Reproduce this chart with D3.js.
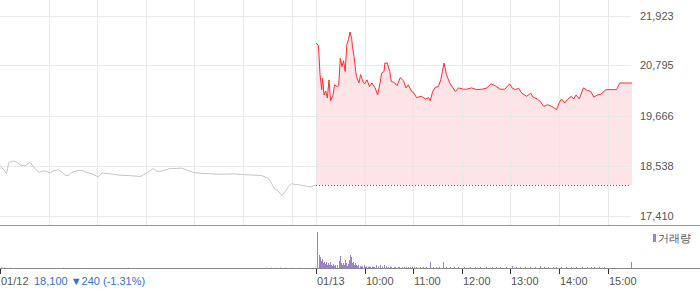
<!DOCTYPE html>
<html>
<head>
	<meta charset="utf-8">
	<title></title>
	<script src="https://cdn.jsdelivr.net/npm/d3@7"></script>
	<style>
		body { margin: 0; background: #fff; }
		text { font-family: "Liberation Sans", Arial, sans-serif; font-size: 11px; fill: #555; }
	</style>
</head>
<body>
	<script type="text/javascript">

		// 01/12 (previous session) prices
		var day1Times = ["09:00","09:04","09:08","09:11","09:16","09:21","09:25","09:31","09:37","09:41","09:46","09:49","09:53","09:58",
			"10:02","10:06","10:12","10:16","10:20","10:24","10:28","10:35","10:41","10:47","10:55","11:01","11:06","11:16","11:28",
			"11:40","11:53","11:59","12:05","12:09","12:13","12:17","12:24","12:30","12:36","12:44","12:50","12:59","13:09","13:21",
			"13:34","13:50","14:02","14:15","14:23","14:31","14:35","14:39","14:44","14:48","14:52","14:56","15:00","15:04","15:10",
			"15:16","15:23","15:30"]
		var day1Prices = [18530,18460,18350,18610,18640,18610,18550,18530,18610,18520,18410,18380,18420,18400,
			18370,18420,18440,18400,18320,18310,18380,18420,18430,18380,18340,18280,18370,18350,18320,
			18310,18290,18350,18410,18470,18420,18400,18440,18470,18470,18480,18440,18380,18360,18350,
			18340,18350,18330,18320,18310,18250,18140,18010,17950,17860,17950,18060,18130,18110,18100,
			18080,18050,18100]

		// 01/13 (today) prices
		var day2Times = ["09:00","09:03","09:05","09:07","09:08","09:10","09:12","09:14","09:16","09:18","09:21","09:23","09:26","09:28",
			"09:30","09:32","09:34","09:36","09:38","09:40","09:42","09:44","09:45","09:47","09:49","09:50","09:53","09:55","09:58",
			"10:00","10:03","10:06","10:09","10:13","10:16","10:19","10:21","10:24","10:25","10:28","10:31","10:33","10:36","10:40",
			"10:44","10:48","10:51","10:54","10:58","11:01","11:04","11:10","11:15","11:19","11:21","11:24","11:27","11:31","11:34",
			"11:36","11:38","11:41","11:45","11:49","11:52","11:56","12:02","12:06","12:12","12:18","12:25","12:31","12:36","12:41",
			"12:47","12:53","12:59","13:02","13:06","13:10","13:14","13:20","13:25","13:28","13:33","13:37","13:41","13:46","13:51",
			"13:57","14:00","14:03","14:07","14:10","14:15","14:18","14:21","14:25","14:30","14:35","14:39","14:43","14:47","14:51",
			"14:54","14:58","15:04","15:11","15:15","15:27","15:30"]
		var day2Prices = [21300,21250,20590,20250,20510,20130,20220,20060,20470,20000,20130,20360,20320,20340,
			20960,20770,20900,20660,21260,21380,21550,21410,21220,21000,20660,20550,20400,20590,20430,
			20380,20470,20320,20400,20290,20130,20400,20620,20660,20850,20850,20660,20430,20420,20340,
			20520,20450,20290,20360,20210,20170,20070,20100,20040,20070,20000,20210,20300,20320,20470,
			20660,20850,20590,20400,20290,20210,20290,20260,20260,20290,20250,20260,20290,20380,20340,
			20260,20260,20380,20290,20250,20280,20170,20100,20170,20080,20040,19980,19870,19910,19870,
			19800,19950,20040,19950,20020,20100,20040,20130,20040,20290,20230,20210,20080,20130,20140,
			20190,20250,20250,20250,20400,20400,20400]

		var prevClose = 18100

		// volume (thousand shares)
		var vol1Times = ["09:01","09:03","09:05","09:12","10:18","11:38","14:28","14:34","14:40","14:45","14:52","15:00","15:10","15:29"]
		var vol1Values = [15,8,10,8,8,8,8,10,8,12,10,8,8,15]

		var vol2Times = ["09:01","09:04","09:05","09:06","09:07","09:09","09:10","09:11","09:12","09:14","09:15","09:16","09:17",
			"09:19","09:20","09:21","09:22","09:23","09:26","09:28","09:30","09:31","09:32","09:33","09:35","09:36","09:37","09:38",
			"09:39","09:41","09:42","09:43","09:44","09:46","09:47","09:48","09:49","09:51","09:52","09:54","09:55","09:57","09:59",
			"10:01","10:02","10:04","10:05","10:07","10:09","10:10","10:12","10:14","10:16","10:17","10:19","10:21","10:22","10:24",
			"10:26","10:27","10:29","10:31","10:33","10:36","10:38","10:41","10:43","10:46","10:48","10:51","10:53","10:56","10:58",
			"11:01","11:04","11:08","11:12","11:16","11:21","11:24","11:28","11:32","11:37","11:40","11:45","11:50","11:55","12:03",
			"12:10","12:16","12:22","12:30","12:37","12:42","12:47","12:55","13:02","13:07","13:12","13:18","13:24","13:30","13:37",
			"13:41","13:46","13:52","13:56","14:02","14:08","14:15","14:21","14:28","14:34","14:39","14:43","14:49","14:55","15:29"]
		var vol2Values = [360,130,110,70,90,50,60,40,60,30,50,30,60,
			30,20,40,20,30,30,70,120,50,30,50,30,80,50,20,
			40,80,130,110,50,60,30,50,30,20,30,20,15,17,30,
			12,15,12,15,12,15,12,12,30,12,15,30,15,12,30,
			20,12,12,15,12,12,10,12,10,10,12,12,10,10,12,
			12,10,10,12,10,60,10,10,12,60,10,10,12,12,10,
			10,10,10,12,10,10,10,12,20,10,10,12,12,10,20,
			12,10,10,10,12,12,10,10,12,12,10,10,12,10,60]

		var yTicks = [21923, 20795, 19666, 18538, 17410]
		var hourLabels = ["10:00","11:00","12:00","13:00","14:00","15:00"]
		var dayLabels = ["01/12","01/13"]
		var prevInfo = "18,100 \u25BC240 (-1.31%)"
		var legendLabel = "거래량"

		var W = 700, H = 289
		var plotRight = 631

		function toMin(day, t) {
			var p = t.split(":")
			return day * 390 + (+p[0] - 9) * 60 + (+p[1])
		}

		var svg = d3.select("body").append("svg")
			.attr("width", W)
			.attr("height", H)

		var x = d3.scaleLinear().domain([0, 780]).range([0, 632])
		var y = d3.scaleLinear().domain([17410, 21923]).range([215.5, 15.5])
		var yv = d3.scaleLinear().domain([0, 360]).range([268, 232])

		var day1 = day1Times.map(function (t, i) { return { m: toMin(0, t), v: day1Prices[i] } })
		var day2 = day2Times.map(function (t, i) { return { m: toMin(1, t), v: day2Prices[i] } })

		// red area (today, above previous close)
		var area = d3.area()
			.x(function (d) { return x(d.m) })
			.y0(y(prevClose))
			.y1(function (d) { return y(d.v) })
		svg.append("path")
			.datum(day2)
			.attr("d", area)
			.attr("fill", "#fde5e7")

		// grid
		var hourMins = []
		for (var d = 0; d < 2; d++) {
			hourLabels.forEach(function (h) { hourMins.push(toMin(d, h)) })
		}
		svg.append("g").selectAll("line.h")
			.data(yTicks).enter().append("line")
			.attr("x1", 0).attr("x2", plotRight)
			.attr("y1", function (d) { return Math.round(y(d)) + 0.5 })
			.attr("y2", function (d) { return Math.round(y(d)) + 0.5 })
			.attr("stroke", "#e6e6e6")
			.attr("stroke-opacity", 0.85)
		svg.append("g").selectAll("line.v")
			.data(hourMins.concat([390])).enter().append("line")
			.attr("x1", function (d) { return Math.round(x(d)) + 0.5 })
			.attr("x2", function (d) { return Math.round(x(d)) + 0.5 })
			.attr("y1", 0).attr("y2", 225)
			.attr("stroke", "#e6e6e6")
			.attr("stroke-opacity", 0.85)

		// previous close dotted line
		svg.append("line")
			.attr("x1", x(390)).attr("x2", plotRight)
			.attr("y1", Math.round(y(prevClose)) + 0.5)
			.attr("y2", Math.round(y(prevClose)) + 0.5)
			.attr("stroke", "#666")
			.attr("stroke-dasharray", "1,2")

		var line = d3.line()
			.x(function (d) { return x(d.m) })
			.y(function (d) { return y(d.v) })

		svg.append("path")
			.datum(day1)
			.attr("d", line)
			.attr("fill", "none")
			.attr("stroke", "#c4c4cc")
			.attr("stroke-width", 1)

		svg.append("path")
			.datum(day2)
			.attr("d", line)
			.attr("fill", "none")
			.attr("stroke", "#ff2b33")
			.attr("stroke-width", 1)

		// y labels
		svg.append("g").selectAll("text")
			.data(yTicks).enter().append("text")
			.attr("x", 640)
			.attr("y", function (d) { return y(d) + 4 })
			.text(function (d) { return d3.format(",")(d) })

		// volume bars
		svg.append("g").selectAll("rect")
			.data(vol1Times).enter().append("rect")
			.attr("x", function (t) { return Math.round(x(toMin(0, t))) })
			.attr("width", 1)
			.attr("y", function (t, i) { return yv(vol1Values[i]) })
			.attr("height", function (t, i) { return 268 - yv(vol1Values[i]) })
			.attr("fill", "#d4d4d8")
		svg.append("g").selectAll("rect")
			.data(vol2Times).enter().append("rect")
			.attr("x", function (t) { return Math.round(x(toMin(1, t))) })
			.attr("width", 1)
			.attr("y", function (t, i) { return yv(vol2Values[i]) })
			.attr("height", function (t, i) { return 268 - yv(vol2Values[i]) })
			.attr("fill", "#9b82cc")

		// legend
		svg.append("rect")
			.attr("x", 653).attr("y", 234)
			.attr("width", 3).attr("height", 8)
			.attr("fill", "#9b82cc")
		svg.append("text")
			.attr("x", 658).attr("y", 242)
			.text(legendLabel)

		// panel separators
		svg.append("line")
			.attr("x1", 0).attr("x2", W)
			.attr("y1", 225.5).attr("y2", 225.5)
			.attr("stroke", "#999")
		svg.append("line")
			.attr("x1", 0).attr("x2", W)
			.attr("y1", 268.5).attr("y2", 268.5)
			.attr("stroke", "#888")

		// bottom ticks and labels
		var tickMins = [0, 390].concat(hourLabels.map(function (h) { return toMin(1, h) }))
		var tickText = dayLabels.concat(hourLabels)
		svg.append("g").selectAll("line")
			.data(tickMins).enter().append("line")
			.attr("x1", function (d) { return Math.round(x(d)) + 0.5 })
			.attr("x2", function (d) { return Math.round(x(d)) + 0.5 })
			.attr("y1", 269).attr("y2", 274)
			.attr("stroke", "#333")
		svg.append("g").selectAll("text")
			.data(tickMins).enter().append("text")
			.attr("x", function (d) { return Math.round(x(d)) + 1 })
			.attr("y", 285)
			.text(function (d, i) { return tickText[i] })

		svg.append("text")
			.attr("x", 34).attr("y", 285)
			.style("fill", "#3470d2")
			.text(prevInfo)

	</script>
</body>
</html>
